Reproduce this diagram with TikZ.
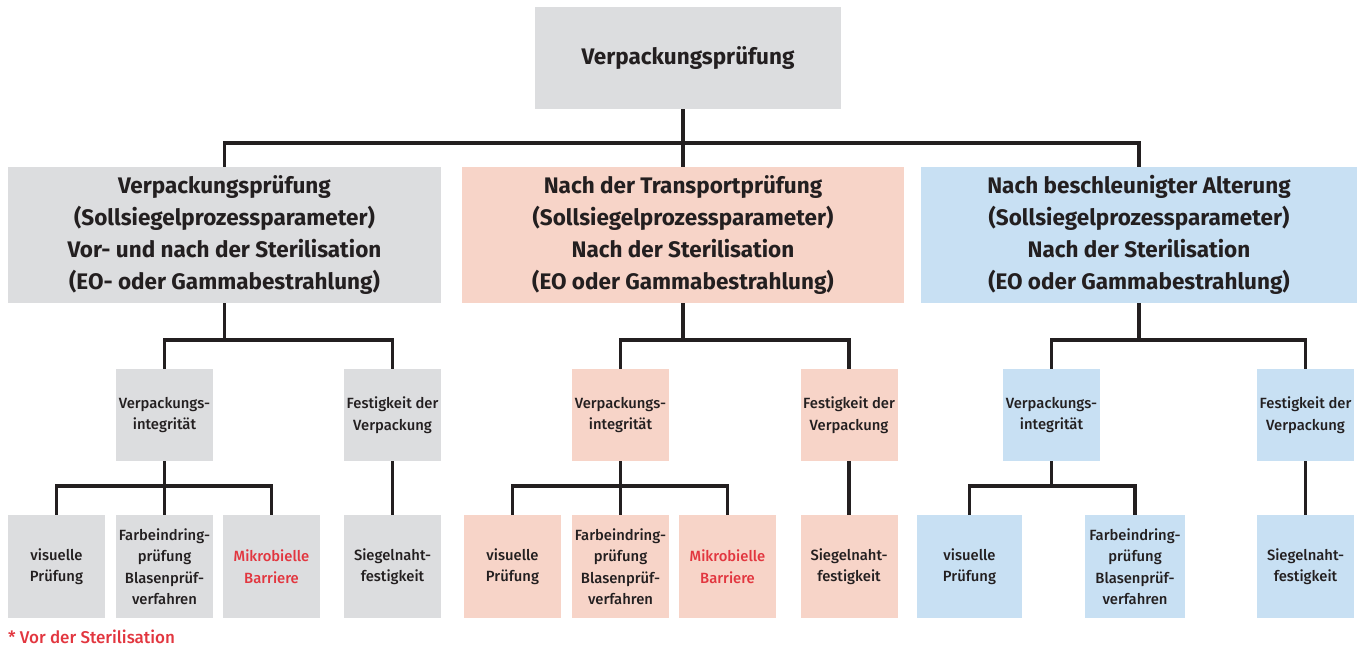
\documentclass[tikz,border=0pt]{standalone}
\usepackage{fontspec}
\setmainfont{Fira Sans}
\newfontfamily\medfont{Fira Sans Medium}
\definecolor{ink}{HTML}{231F20}
\definecolor{gbox}{HTML}{DCDDDF}
\definecolor{pbox}{HTML}{F7D4C8}
\definecolor{bbox}{HTML}{C8E0F3}
\definecolor{redtxt}{HTML}{E2363F}
\begin{document}
\begin{tikzpicture}[x=1pt,y=-1pt,
  box/.style={rectangle, inner sep=0pt, align=center, text=ink},
  big/.style={box, font=\fontsize{22.5}{32}\selectfont\bfseries},
  small/.style={box, font=\medfont\fontsize{14.8}{21.5}\selectfont, minimum height=92},
  leaf/.style={box, font=\medfont\fontsize{14.8}{21.5}\selectfont, minimum height=103},
  conn/.style={draw=ink, line width=3.5pt, line cap=butt, line join=miter}]
\useasboundingbox (0,0) rectangle (1364,647);
% top
\node[big, fill=gbox, minimum width=306, minimum height=102] (top) at (688,58) {Verpackungsprüfung};
% level 1
\node[big, fill=gbox, minimum width=433, minimum height=136] (A1) at (224.5,235) {Verpackungsprüfung\\(Sollsiegelprozessparameter)\\Vor- und nach der Sterilisation\\(EO- oder Gammabestrahlung)};
\node[big, fill=pbox, minimum width=442, minimum height=136] (B1) at (683,235) {Nach der Transportprüfung\\(Sollsiegelprozessparameter)\\Nach der Sterilisation\\(EO oder Gammabestrahlung)};
\node[big, fill=bbox, minimum width=436, minimum height=136] (C1) at (1139,235) {Nach beschleunigter Alterung\\(Sollsiegelprozessparameter)\\Nach der Sterilisation\\(EO oder Gammabestrahlung)};
% level 2
\node[small, fill=gbox, minimum width=97] (A2v) at (164.5,415) {Verpackungs-\\integrität};
\node[small, fill=gbox, minimum width=97] (A2f) at (392.5,415) {Festigkeit der\\Verpackung};
\node[small, fill=pbox, minimum width=97] (B2v) at (620.5,415) {Verpackungs-\\integrität};
\node[small, fill=pbox, minimum width=97] (B2f) at (849,415) {Festigkeit der\\Verpackung};
\node[small, fill=bbox, minimum width=97] (C2v) at (1051.5,415) {Verpackungs-\\integrität};
\node[small, fill=bbox, minimum width=97] (C2f) at (1305.5,415) {Festigkeit der\\Verpackung};
% level 3
\node[leaf, fill=gbox, minimum width=97] (A3a) at (56.5,566.5) {visuelle\\Prüfung};
\node[leaf, fill=gbox, minimum width=97] (A3b) at (164.5,566.5) {Farbeindring-\\prüfung\\Blasenprüf-\\verfahren};
\node[leaf, fill=gbox, minimum width=97, text=redtxt] (A3c) at (271.5,566.5) {Mikrobielle\\Barriere};
\node[leaf, fill=gbox, minimum width=97] (A3s) at (392.5,566.5) {Siegelnaht-\\festigkeit};
\node[leaf, fill=pbox, minimum width=97] (B3a) at (512.5,566.5) {visuelle\\Prüfung};
\node[leaf, fill=pbox, minimum width=97] (B3b) at (620.5,566.5) {Farbeindring-\\prüfung\\Blasenprüf-\\verfahren};
\node[leaf, fill=pbox, minimum width=97, text=redtxt] (B3c) at (727.5,566.5) {Mikrobielle\\Barriere};
\node[leaf, fill=pbox, minimum width=97] (B3s) at (849,566.5) {Siegelnaht-\\festigkeit};
\node[leaf, fill=bbox, minimum width=105] (C3a) at (969.5,566.5) {visuelle\\Prüfung};
\node[leaf, fill=bbox, minimum width=100] (C3b) at (1135,566.5) {Farbeindring-\\prüfung\\Blasenprüf-\\verfahren};
\node[leaf, fill=bbox, minimum width=97] (C3s) at (1305.5,566.5) {Siegelnaht-\\festigkeit};
% footnote
\node[anchor=west, inner sep=0pt, text=redtxt, font=\medfont\fontsize{17}{20}\selectfont] (fn) at (8,637) {* Vor der Sterilisation};
% connectors level 0-1
\draw[conn] (B1.north |- top.south) -- (B1.north);
\draw[conn] (A1.north) -- (A1.north |- 0,143) -| (C1.north);
% level 1-2
\draw[conn] (A1.south) -- (A1.south |- 0,340);
\draw[conn] (A2v.north) -- (A2v.north |- 0,340) -| (A2f.north);
\draw[conn] (B1.south) -- (B1.south |- 0,340);
\draw[conn] (B2v.north) -- (B2v.north |- 0,340) -| (B2f.north);
\draw[conn] (C1.south) -- (C1.south |- 0,340);
\draw[conn] (C2v.north) -- (C2v.north |- 0,340) -| (C2f.north);
% level 2-3
\draw[conn] (A2v.south) -- (A3b.north);
\draw[conn] (A3a.north) -- (A3a.north |- 0,486) -| (A3c.north);
\draw[conn] (A2f.south) -- (A3s.north);
\draw[conn] (B2v.south) -- (B3b.north);
\draw[conn] (B3a.north) -- (B3a.north |- 0,486) -| (B3c.north);
\draw[conn] (B2f.south) -- (B3s.north);
\draw[conn] (C2v.south) -- (C2v.south |- 0,486);
\draw[conn] (C3a.north) -- (C3a.north |- 0,486) -| (C3b.north);
\draw[conn] (C2f.south) -- (C3s.north);
\end{tikzpicture}
\end{document}
